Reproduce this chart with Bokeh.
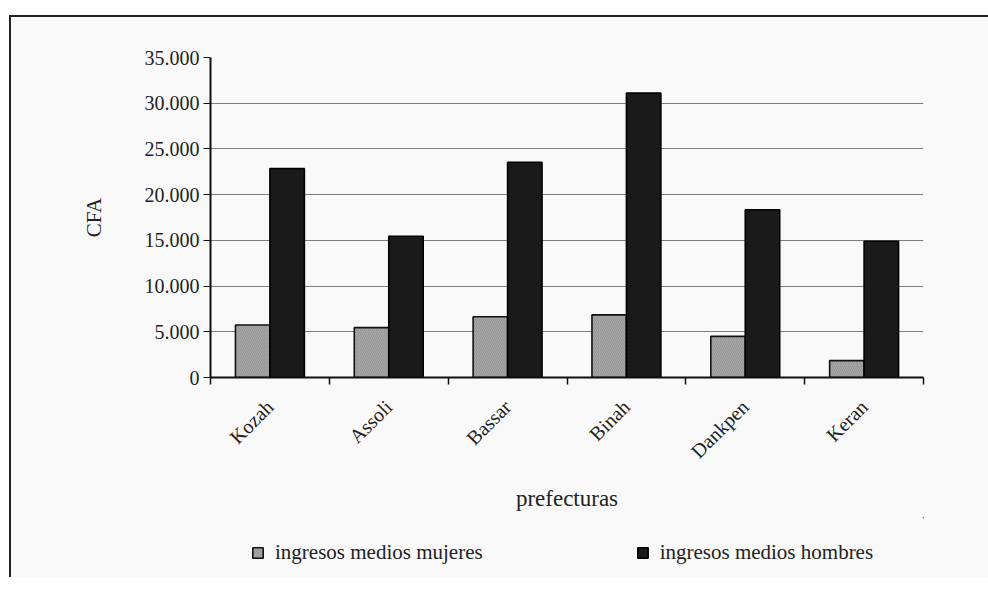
import math
from bokeh.plotting import figure
from bokeh.layouts import column
from bokeh.models import (ColumnDataSource, Range1d, FixedTicker, CustomJSTickFormatter,
                          Legend, LegendItem)
from bokeh.embed import file_html
from bokeh.resources import INLINE

prefecturas = ["Kozah", "Assoli", "Bassar", "Binah", "Dankpen", "Keran"]
mujeres = [5750, 5450, 6650, 6850, 4500, 1850]
hombres = [22850, 15450, 23550, 31100, 18350, 14900]
y_ticks = [0, 5000, 10000, 15000, 20000, 25000, 30000, 35000]
serie_labels = ["ingresos medios mujeres", "ingresos medios hombres"]

FONT = "Liberation Serif"
BG = "#f9f9f9"
GRAY = dict(fill_color="#a6a6a6", line_color="#111", line_width=1.6,
            hatch_pattern="/", hatch_color="#7a7a7a", hatch_scale=4, hatch_weight=0.6, hatch_alpha=0.6)
BLACK = dict(fill_color="#161616", line_color="#000", line_width=1.6,
             hatch_pattern="/", hatch_color="#333", hatch_scale=4, hatch_weight=0.5, hatch_alpha=0.5)

n = len(prefecturas)
bw = 0.29
centers = [i + 0.5 for i in range(n)]
src = ColumnDataSource(dict(cat=prefecturas, m=mujeres, h=hombres,
                            xm=[c - bw / 2 for c in centers], xh=[c + bw / 2 for c in centers]))

p = figure(width=977, height=500, x_range=Range1d(0, n), y_range=Range1d(0, 35000),
           output_backend="svg", toolbar_location=None,
           min_border_left=199, min_border_right=65, min_border_top=40, min_border_bottom=140)
p.background_fill_color = BG
p.border_fill_color = BG
p.outline_line_color = None

r_m = p.vbar(x="xm", top="m", width=bw, source=src, **GRAY)
r_h = p.vbar(x="xh", top="h", width=bw, source=src, **BLACK)

# y axis
ya = p.yaxis[0]
ya.ticker = FixedTicker(ticks=y_ticks)
ya.formatter = CustomJSTickFormatter(
    code="return Math.round(tick).toString().replace(/\\B(?=(\\d{3})+(?!\\d))/g, '.');")
ya.axis_label = "CFA"
ya.axis_label_text_font = FONT
ya.axis_label_text_font_size = "21px"
ya.axis_label_text_font_style = "normal"
ya.axis_label_text_color = "#222"
ya.axis_label_standoff = 36
ya.major_label_text_font = FONT
ya.major_label_text_font_size = "20px"
ya.major_label_text_color = "#222"
ya.major_label_standoff = 4
ya.axis_line_color = "#111"
ya.axis_line_width = 2
ya.major_tick_line_color = "#111"
ya.major_tick_out = 7
ya.major_tick_in = 0
ya.minor_tick_line_color = None

p.ygrid.ticker = FixedTicker(ticks=y_ticks)
p.ygrid.grid_line_color = "#7d7d7d"
p.ygrid.grid_line_width = 1.2
p.xgrid.grid_line_color = None

# x axis: labels at centres, tick marks at category boundaries (minor ticks)
xa = p.xaxis[0]
xa.ticker = FixedTicker(ticks=centers, minor_ticks=list(range(n + 1)))
xa.major_label_overrides = {c: name for c, name in zip(centers, prefecturas)}
xa.axis_line_color = "#111"
xa.axis_line_width = 2
xa.major_tick_line_color = None
xa.minor_tick_line_color = "#111"
xa.minor_tick_line_width = 1.5
xa.minor_tick_out = 7
xa.minor_tick_in = 0
xa.major_label_orientation = math.pi / 4
xa.major_label_text_font = FONT
xa.major_label_text_font_size = "20px"
xa.major_label_text_color = "#222"
xa.major_label_standoff = 19
xa.axis_label = "prefecturas"
xa.axis_label_text_font = FONT
xa.axis_label_text_font_size = "23px"
xa.axis_label_text_font_style = "normal"
xa.axis_label_text_color = "#222"
xa.axis_label_standoff = 13

# legend strip (its frame is aligned with the chart frame by the column layout)
p2 = figure(width=977, height=60, x_range=Range1d(0, 1), y_range=Range1d(0, 1),
            output_backend="svg", toolbar_location=None,
            min_border_left=0, min_border_right=0, min_border_top=0, min_border_bottom=0)
p2.axis.visible = False
p2.grid.visible = False
p2.background_fill_color = BG
p2.border_fill_color = BG
p2.outline_line_color = None
proxy = ColumnDataSource(dict(x=[50], top=[50], bottom=[49]))  # legend proxies, far outside the view
lm = p2.vbar(x="x", top="top", bottom="bottom", width=0.1, source=proxy, **GRAY)
lh = p2.vbar(x="x", top="top", bottom="bottom", width=0.1, source=proxy, **BLACK)
legend = Legend(items=[LegendItem(label=serie_labels[0], renderers=[lm]),
                       LegendItem(label=serie_labels[1], renderers=[lh])],
                orientation="horizontal", location=(41, 12),
                label_text_font=FONT, label_text_font_size="21px", label_text_color="#222",
                glyph_width=13, glyph_height=13, spacing=153, label_standoff=11,
                background_fill_alpha=0, border_line_color=None, margin=0, padding=4)
p2.add_layout(legend, "center")

layout = column(p, p2, spacing=0)
layout.styles = {"margin-left": "9px", "margin-top": "15px", "background-color": BG,
                 "border-left": "2px solid #222", "border-top": "2px solid #222"}

open("out.html", "w").write(file_html(layout, INLINE))
